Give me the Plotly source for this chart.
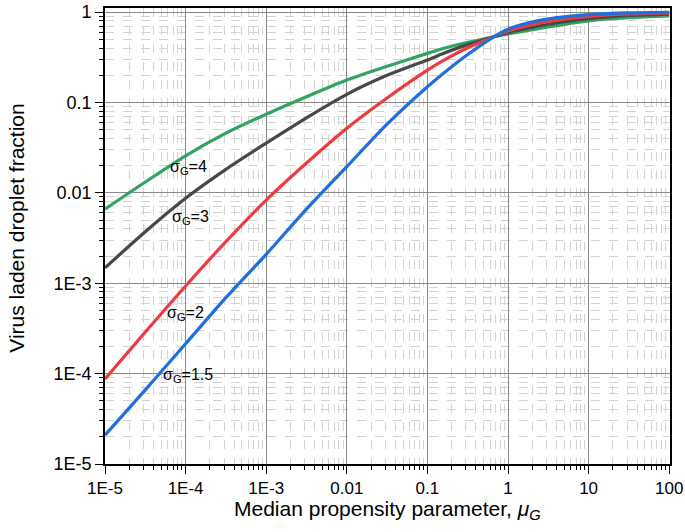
import plotly.graph_objects as go

# log10(mu_G) sample positions
log_mu = [-5, -4.5, -4, -3.5, -3, -2.5, -2, -1.5, -1, -0.75, -0.5, -0.25, 0, 0.25, 0.5, 0.75, 1, 1.5, 2]
mu = [10 ** v for v in log_mu]

# log10(fraction)
log_f_s4 = [-2.18, -1.88, -1.59, -1.34, -1.13, -0.937, -0.752, -0.600, -0.457, -0.390, -0.335, -0.287, -0.243, -0.203, -0.165, -0.128, -0.097, -0.063, -0.043]
log_f_s3 = [-2.83, -2.43, -2.06, -1.74, -1.45, -1.17, -0.91, -0.70, -0.530, -0.440, -0.360, -0.293, -0.228, -0.178, -0.135, -0.100, -0.072, -0.038, -0.022]
log_f_s2 = [-4.06, -3.54, -3.03, -2.54, -2.08, -1.67, -1.285, -0.950, -0.642, -0.510, -0.395, -0.300, -0.210, -0.148, -0.103, -0.070, -0.047, -0.020, -0.009]
log_f_s15 = [-4.68, -4.18, -3.67, -3.16, -2.68, -2.18, -1.71, -1.24, -0.826, -0.640, -0.470, -0.315, -0.190, -0.120, -0.075, -0.047, -0.028, -0.009, -0.003]

names = ["σ<sub>G</sub>=4", "σ<sub>G</sub>=3", "σ<sub>G</sub>=2", "σ<sub>G</sub>=1.5"]
values = [log_f_s4, log_f_s3, log_f_s2, log_f_s15]
colors = ["#33a460", "#484848", "#ee3b3f", "#1f6fdc"]

x_tickvals = [1e-5, 1e-4, 1e-3, 1e-2, 1e-1, 1, 10, 100]
x_ticktext = ["1E-5", "1E-4", "1E-3", "0.01", "0.1", "1", "10", "100"]
y_tickvals = [1e-5, 1e-4, 1e-3, 1e-2, 1e-1, 1]
y_ticktext = ["1E-5", "1E-4", "1E-3", "0.01", "0.1", "1"]

# label anchors (log10 units, as plotly log axes expect)
label_logx = [-4.22, -4.19, -4.26, -4.30]
label_logy = [-1.72, -2.27, -3.34, -4.02]

FONT = "Liberation Sans, Arial, sans-serif"

fig = go.Figure()
for name, lf, col in zip(names, values, colors):
    fig.add_trace(go.Scatter(
        x=mu, y=[10 ** v for v in lf], mode="lines", name=name,
        line=dict(color=col, width=3.2, shape="spline", smoothing=0.8),
        showlegend=False,
    ))

for name, lx, ly in zip(names, label_logx, label_logy):
    fig.add_annotation(x=lx, y=ly, xref="x", yref="y", text=name,
                       showarrow=False, xanchor="left", yanchor="middle",
                       font=dict(family=FONT, size=16, color="black"))

axis_common = dict(
    type="log",
    showline=True, linecolor="black", linewidth=1.6, mirror=True,
    showgrid=True, gridcolor="#8a8a8a", gridwidth=1.2,
    ticks="outside", ticklen=8, tickwidth=1.2, tickcolor="black",
    minor=dict(dtick="D1", ticks="outside", ticklen=4, tickcolor="black", tickwidth=1,
               showgrid=True, gridcolor="#d3d3d3", griddash="dash", gridwidth=1),
    zeroline=False,
    automargin=False,
    ticklabeloverflow="allow",
)

fig.update_xaxes(**axis_common, range=[-5, 2.01], tickvals=x_tickvals, ticktext=x_ticktext,
                 tickfont=dict(family=FONT, size=17, color="black"))
fig.update_yaxes(**axis_common, range=[-5, 0.045], tickvals=y_tickvals, ticktext=y_ticktext,
                 tickfont=dict(family=FONT, size=18, color="black"))

# axis titles
fig.add_annotation(x=0.5, y=-0.1009, xref="paper", yref="paper",
                   text="Median propensity parameter, <i>μ<sub>G</sub></i>",
                   showarrow=False, xanchor="center", yanchor="middle",
                   font=dict(family=FONT, size=21, color="black"))
fig.add_annotation(x=-0.158, y=0.5175, xref="paper", yref="paper",
                   text="Virus laden droplet fraction", textangle=-90,
                   showarrow=False, xanchor="center", yanchor="middle",
                   font=dict(family=FONT, size=21, color="black"))

fig.update_layout(
    width=685, height=532,
    margin=dict(l=105, r=15, t=8, b=68),
    paper_bgcolor="white", plot_bgcolor="white",
)

fig.write_html("out.html", config={"displayModeBar": False},
               post_script="document.body.style.margin='0px';document.body.style.padding='0px';")
